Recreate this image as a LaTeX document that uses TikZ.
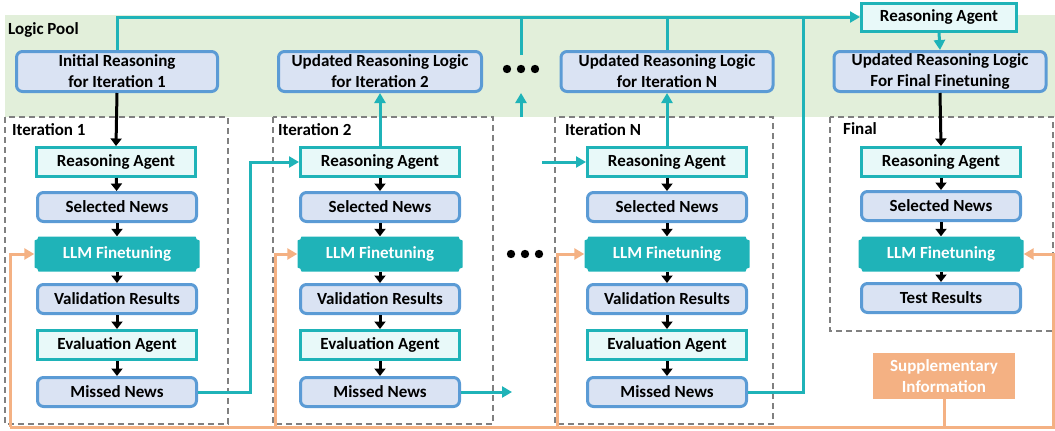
\documentclass[tikz,border=0pt]{standalone}
\usepackage{fontspec}
\setmainfont{Carlito}
\usetikzlibrary{arrows.meta,calc}
\definecolor{bluebd}{HTML}{5B9BD5}
\definecolor{bluefill}{HTML}{DAE3F3}
\definecolor{tealc}{HTML}{1FB3B8}
\definecolor{tealfill}{HTML}{E8F9F9}
\definecolor{greenbg}{HTML}{E2EFDA}
\definecolor{orangec}{HTML}{F4B183}
\definecolor{grayd}{HTML}{808080}
\tikzset{
  bbox/.style={draw=bluebd, fill=bluefill, line width=3pt, rounded corners=6pt,
    minimum width=159pt, minimum height=29pt, inner sep=0pt, align=center},
  abox/.style={draw=tealc, fill=tealfill, line width=3pt,
    minimum width=159pt, minimum height=29pt, inner sep=0pt},
  llmbox/.style={minimum width=165pt, minimum height=35pt, inner sep=0pt, text=white,
    path picture={
      \fill[tealc] let \p1=(path picture bounding box.south west),
                       \p2=(path picture bounding box.north east) in
        (\x1+4pt,\y1) -- (\x2-4pt,\y1) arc[start angle=180,end angle=90,radius=4pt]
        -- (\x2,\y2-4pt) arc[start angle=270,end angle=180,radius=4pt]
        -- (\x1+4pt,\y2) arc[start angle=0,end angle=-90,radius=4pt]
        -- (\x1,\y1+4pt) arc[start angle=90,end angle=0,radius=4pt] -- cycle;
    }},
  logic/.style={bbox, minimum height=40pt},
  suppbox/.style={fill=orangec, text=white, minimum width=142pt, minimum height=46pt,
    inner sep=0pt, align=center},
  lbl/.style={anchor=west, inner sep=0pt},
  barrow/.style={draw=black, line width=3pt, -{Triangle[length=7.5pt,width=11pt]}},
  tline/.style={draw=tealc, line width=3pt},
  tarrow/.style={tline, -{Triangle[length=10pt,width=11pt]}},
  oline/.style={draw=orangec, line width=3pt},
  oarrow/.style={oline, -{Triangle[length=10pt,width=11pt]}},
  dashbox/.style={draw=grayd, line width=2.2pt, dash pattern=on 6pt off 4pt},
  dot/.style={fill=black}
}
\begin{document}
\begin{tikzpicture}[x=1pt,y=-1pt,font=\fontsize{17}{21}\selectfont\bfseries]
\useasboundingbox (0,0) rectangle (1055,431);
% logic pool background
\fill[greenbg] (5,15) rectangle (1055,117);
\node[lbl] (LP) at (8,30) {Logic Pool};
% dashed iteration frames
\draw[dashbox] (5,117) rectangle (228,424);
\draw[dashbox] (273,117) rectangle (493,424);
\draw[dashbox] (555,117) rectangle (773,424);
\draw[dashbox] (830,117) rectangle (1053,331);
\node[lbl] (T1) at (12,130) {Iteration 1};
\node[lbl] (T2) at (278,130) {Iteration 2};
\node[lbl] (TN) at (565,130) {Iteration N};
\node[lbl] (TF) at (843,129) {Final};
% logic boxes
\node[logic, minimum width=201pt] (L1) at (117,71.5) {Initial Reasoning\\for Iteration 1};
\node[logic, minimum width=203pt] (L2) at (380,71.5) {Updated Reasoning Logic\\for Iteration 2};
\node[logic, minimum width=212pt] (LN) at (667,71.5) {Updated Reasoning Logic\\for Iteration N};
\node[logic, minimum width=212pt] (LF) at (940,71.5) {Updated Reasoning Logic\\For Final Finetuning};
\node[abox, minimum width=155pt, minimum height=28pt] (RAT) at (939,17) {Reasoning Agent};
% column 1
\node[abox] (RA1) at (116,162) {Reasoning Agent};
\node[bbox] (SN1) at (117,207) {Selected News};
\node[llmbox] (LL1) at (117,254) {LLM Finetuning};
\node[bbox] (VR1) at (117,299) {Validation Results};
\node[abox] (EA1) at (117,345) {Evaluation Agent};
\node[bbox] (MN1) at (117,392) {Missed News};
% column 2
\node[abox] (RA2) at (380,162) {Reasoning Agent};
\node[bbox] (SN2) at (380,207) {Selected News};
\node[llmbox] (LL2) at (380,254) {LLM Finetuning};
\node[bbox] (VR2) at (380,299) {Validation Results};
\node[abox] (EA2) at (380,345) {Evaluation Agent};
\node[bbox] (MN2) at (380,392) {Missed News};
% column N
\node[abox] (RAN) at (667,162) {Reasoning Agent};
\node[bbox] (SNN) at (667,207) {Selected News};
\node[llmbox] (LLN) at (667,254) {LLM Finetuning};
\node[bbox] (VRN) at (667,299) {Validation Results};
\node[abox] (EAN) at (667,345) {Evaluation Agent};
\node[bbox] (MNN) at (667,392) {Missed News};
% final column
\node[abox] (RAF) at (941,162) {Reasoning Agent};
\node[bbox] (SNF) at (941,206) {Selected News};
\node[llmbox] (LLF) at (941,254) {LLM Finetuning};
\node[bbox] (TRF) at (941,298) {Test Results};
\node[suppbox] (SUP) at (944,376) {Supplementary\\Information};
% dots
\fill[dot] (507,69) circle (4.2pt) (521,69) circle (4.2pt) (535,69) circle (4.2pt);
\fill[dot] (511,254) circle (4.2pt) (525,254) circle (4.2pt) (539,254) circle (4.2pt);
% coordinates
\coordinate (dA) at (521,55);
\coordinate (dB) at (521,117);
\coordinate (dC) at (521,93);
\coordinate (jN) at (803,17);
\coordinate (m1) at (250,392);
\coordinate (m2) at (512,392);
\coordinate (sN) at (542,162);
\coordinate (oL) at (10,427);
\coordinate (oR) at (1053,427);
\coordinate (o2) at (275,427);
\coordinate (oN) at (557,427);
% black chain arrows
\foreach \c in {1,2,N}{
  \draw[barrow] (RA\c) -- (SN\c);
  \draw[barrow] (SN\c) -- (LL\c);
  \draw[barrow] (LL\c) -- (VR\c);
  \draw[barrow] (VR\c) -- (EA\c);
  \draw[barrow] (EA\c) -- (MN\c);
}
\draw[barrow] (RAF) -- (SNF);
\draw[barrow] (SNF) -- (LLF);
\draw[barrow] (LLF) -- (TRF);
\draw[barrow] (L1.south) -- (RA1.north);
\draw[barrow] (LF.south) -- (RAF.north);
% teal connectors
\draw[tarrow] (L1.north) |- (RAT.west);
\draw[tline] (LN.north) -- (LN.north |- jN);
\draw[tline] (dA) -- (dA |- jN);
\draw[tline] (MNN.east) -| (jN);
\draw[tarrow] (RAT.south) -- (LF.north);
\draw[tarrow] (MN1.east) -| (m1) |- (RA2.west);
\draw[tarrow] (MN2.east) -- (m2);
\draw[tarrow] (sN) -- (RAN.west);
\draw[tarrow] (RA2.north) -- (L2.south);
\draw[tarrow] (RAN.north) -- (LN.south);
\draw[tarrow] (dB) -- (dC);
% orange connectors
\draw[oline] (SUP.south) |- (oL);
\draw[oarrow] (oL) |- (LL1.west);
\draw[oarrow] (o2) |- (LL2.west);
\draw[oarrow] (oN) |- (LLN.west);
\draw[oarrow] (SUP.south) |- (oR) |- (LLF.east);
\end{tikzpicture}
\end{document}
